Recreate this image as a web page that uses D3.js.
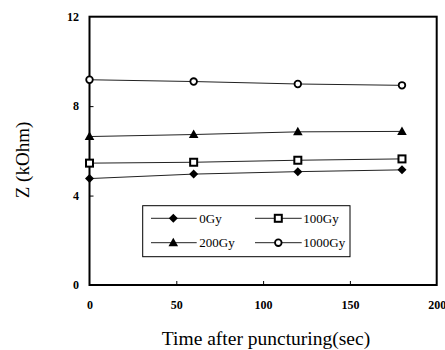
<!DOCTYPE html>
<html><head><meta charset="utf-8">
<script src="https://cdn.jsdelivr.net/npm/d3@7/dist/d3.min.js"></script>
<style>body{margin:0;background:#fff}svg{display:block}</style>
</head><body>
<script>
const times = [0, 60, 120, 180];
const seriesNames = ["0Gy", "100Gy", "200Gy", "1000Gy"];
const z0Gy = [4.76, 4.96, 5.07, 5.15];
const z100Gy = [5.45, 5.49, 5.58, 5.64];
const z200Gy = [6.64, 6.73, 6.85, 6.87];
const z1000Gy = [9.18, 9.10, 8.99, 8.93];
const xTicks = [0, 50, 100, 150, 200];
const yTicks = [0, 4, 8, 12];

const seriesValues = [z0Gy, z100Gy, z200Gy, z1000Gy];
const symbols = ["diamond", "square", "triangle", "circle"];

const W = 445, H = 350;
const m = {l: 89.5, r: 8.3, t: 16.7, b: 65};
const svg = d3.select("body").append("svg").attr("width", W).attr("height", H);
const x = d3.scaleLinear().domain([0, 200]).range([m.l, W - m.r]);
const y = d3.scaleLinear().domain([0, 12]).range([H - m.b, m.t]);
const serif = "Liberation Serif, Times New Roman, serif";

// axes
const xa = svg.append("g").attr("transform", `translate(0,${H - m.b})`)
  .call(d3.axisBottom(x).tickValues(xTicks).tickSize(-4).tickPadding(15).tickFormat(d3.format("d")));
const ya = svg.append("g").attr("transform", `translate(${m.l},0)`)
  .call(d3.axisLeft(y).tickValues(yTicks).tickSize(-4).tickPadding(10.5).tickFormat(d3.format("d")));
[xa, ya].forEach(a => {
  a.select(".domain").remove();
  a.selectAll("line").attr("stroke", "#000").attr("stroke-width", 1);
  a.selectAll("text").attr("font-family", serif).attr("font-weight", "bold").attr("font-size", 12).attr("fill", "#000");
});
xa.selectAll(".tick").filter(d => d === 0 || d === 200).select("line").remove();
ya.selectAll(".tick").filter(d => d === 0 || d === 12).select("line").remove();

// frame
svg.append("rect").attr("x", m.l).attr("y", m.t).attr("width", W - m.r - m.l).attr("height", H - m.b - m.t)
  .attr("fill", "none").attr("stroke", "#000").attr("stroke-width", 2);

// series
const line = d3.line().x((d, i) => x(times[i])).y(d => y(d));
function marker(g, type, cx, cy) {
  if (type === "diamond") {
    g.append("path").attr("d", `M${cx},${cy-4.5}L${cx+4.5},${cy}L${cx},${cy+4.5}L${cx-4.5},${cy}Z`).attr("fill", "#000");
  } else if (type === "square") {
    g.append("rect").attr("x", cx - 3.5).attr("y", cy - 3.5).attr("width", 7).attr("height", 7)
      .attr("fill", "#fff").attr("stroke", "#000").attr("stroke-width", 2);
  } else if (type === "triangle") {
    g.append("path").attr("d", `M${cx},${cy-5}L${cx+4.8},${cy+3.5}L${cx-4.8},${cy+3.5}Z`).attr("fill", "#000");
  } else {
    g.append("circle").attr("cx", cx).attr("cy", cy).attr("r", 3.3)
      .attr("fill", "#fff").attr("stroke", "#000").attr("stroke-width", 1.8);
  }
}
seriesValues.forEach((vals, k) => {
  const g = svg.append("g");
  g.append("path").attr("d", line(vals)).attr("fill", "none").attr("stroke", "#222").attr("stroke-width", 1);
  vals.forEach((v, i) => marker(g, symbols[k], x(times[i]), y(v)));
});

// legend
const lg = svg.append("g");
lg.append("rect").attr("x", 142.7).attr("y", 205.7).attr("width", 207.3).attr("height", 51)
  .attr("fill", "#fff").attr("stroke", "#000").attr("stroke-width", 1);
const cols = [{x1: 151, x2: 196.7, mx: 173.3, tx: 199.3}, {x1: 255, x2: 301.7, mx: 278.3, tx: 303.3}];
const rows = [218.3, 242.7];
seriesNames.forEach((name, k) => {
  const c = cols[k % 2], ry = rows[Math.floor(k / 2)];
  lg.append("line").attr("x1", c.x1).attr("x2", c.x2).attr("y1", ry).attr("y2", ry).attr("stroke", "#222").attr("stroke-width", 1);
  marker(lg, symbols[k], c.mx, ry);
  lg.append("text").attr("x", c.tx).attr("y", ry).attr("dy", "0.35em").attr("font-family", serif)
    .attr("font-size", 13).attr("fill", "#000").text(name);
});

// titles
svg.append("text").attr("x", 266).attr("y", 338).attr("dy", "0.35em").attr("text-anchor", "middle")
  .attr("font-family", serif).attr("font-size", 19.5).attr("fill", "#000").text("Time after puncturing(sec)");
svg.append("text").attr("transform", "translate(22,160) rotate(-90)").attr("dy", "0.35em").attr("text-anchor", "middle")
  .attr("font-family", serif).attr("font-size", 19).attr("fill", "#000").text("Z (kOhm)");
</script>
</body></html>
